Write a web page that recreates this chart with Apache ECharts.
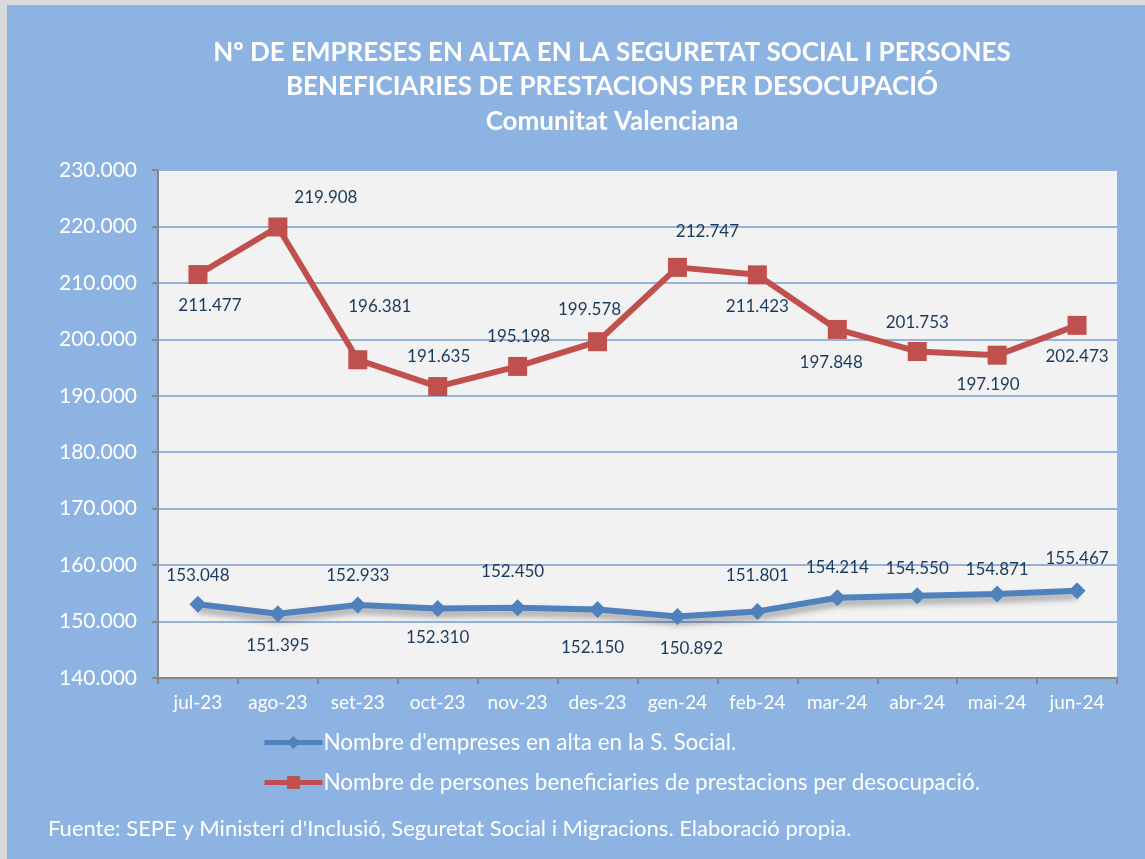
<!DOCTYPE html>
<html>
<head>
<meta charset="utf-8">
<script src="https://cdn.jsdelivr.net/npm/echarts@6/dist/echarts.min.js"></script>
<style>
  html, body { margin: 0; padding: 0; background: #d9d9d9; }
  #chart { position: absolute; left: 7px; top: 5px; width: 1138px; height: 854px; }
</style>
</head>
<body>
<div id="chart"></div>
<script>
// ---------------------------------------------------------------------------
// Dades
// ---------------------------------------------------------------------------
const months = ["jul-23", "ago-23", "set-23", "oct-23", "nov-23", "des-23",
  "gen-24", "feb-24", "mar-24", "abr-24", "mai-24", "jun-24"];

const empreses = [153048, 151395, 152933, 152310, 152450, 152150,
  150892, 151801, 154214, 154550, 154871, 155467];

const beneficiaries = [211477, 219908, 196381, 191635, 195198, 199578,
  212747, 211423, 201753, 197848, 197190, 202473];

const seriesNames = [
  "Nombre d'empreses en alta en la S. Social.",
  "Nombre de persones beneficiaries de prestacions per desocupació.",
];

// desplaçament manual de les etiquetes (com al gràfic original)
const empresesLabelOffset = [
  [0, -29], [0, 32], [0, -29], [0, 29], [-5, -36], [-5, 38],
  [14, 32], [0, -36], [0, -30], [0, -27], [0, -25], [0, -32],
];
const beneficLabelOffset = [
  [12, 31], [48, -29], [22, -53], [1, -30], [1, -30], [-8, -32],
  [30, -36], [0, 32], [80, -7], [-86, 11], [-9, 29], [0, 31],
];

const BLUE = "#4f81bd";
const RED = "#c0504d";
const LABEL = "#1a3a5c";
const FONT = "Lato, 'Open Sans', sans-serif";

function fmt(v) {
  return String(Math.round(v)).replace(/\B(?=(\d{3})+(?!\d))/g, ".");
}

function withLabels(values, offsets) {
  return values.map((v, i) => ({
    value: v,
    label: { offset: offsets[i] },
  }));
}

const chart = echarts.init(document.getElementById("chart"));

chart.setOption({
  backgroundColor: "#8db3e2",
  textStyle: { fontFamily: FONT },
  graphic: [
    {
      type: "text",
      x: 605,
      y: 30,
      style: {
        text: "Nº DE EMPRESES EN ALTA EN LA SEGURETAT SOCIAL I PERSONES\nBENEFICIARIES DE PRESTACIONS PER DESOCUPACIÓ\nComunitat Valenciana",
        fill: "#fff",
        font: "bold 26px " + FONT,
        align: "center",
        verticalAlign: "top",
        lineHeight: 34.5,
      },
    },
    {
      type: "text",
      x: 41,
      y: 824,
      style: {
        text: "Fuente: SEPE y Ministeri d'Inclusió, Seguretat Social i Migracions. Elaboració propia.",
        fill: "#fff",
        font: "22px " + FONT,
        verticalAlign: "middle",
      },
    },
  ],
  grid: {
    left: 151,
    right: 28,
    top: 165,
    bottom: 181,
    show: true,
    backgroundColor: "#f2f2f2",
    borderWidth: 0,
  },
  legend: {
    orient: "vertical",
    left: 255,
    top: 726,
    padding: 0,
    itemWidth: 58,
    itemHeight: 16,
    itemGap: 17,
    lineStyle: { width: 5 },
    textStyle: { color: "#fff", fontSize: 22.5, fontFamily: FONT, padding: [0, 0, 0, -4] },
    data: seriesNames,
  },
  xAxis: {
    type: "category",
    data: months,
    boundaryGap: true,
    axisLine: { lineStyle: { color: "#868686", width: 2 } },
    axisTick: { show: true, length: 6, lineStyle: { color: "#868686", width: 2 } },
    axisLabel: { color: "#fff", fontSize: 19, margin: 15, fontFamily: FONT },
  },
  yAxis: {
    type: "value",
    min: 140000,
    max: 230000,
    interval: 10000,
    axisLine: { show: true, lineStyle: { color: "#868686", width: 2 } },
    axisTick: { show: true, length: 6, lineStyle: { color: "#868686", width: 2 } },
    axisLabel: { color: "#fff", fontSize: 21, margin: 21, formatter: fmt, fontFamily: FONT },
    splitLine: { lineStyle: { color: "#95b3d7", width: 2 } },
  },
  series: [
    {
      name: seriesNames[0],
      type: "line",
      data: withLabels(empreses, empresesLabelOffset),
      symbol: "diamond",
      symbolSize: 17,
      lineStyle: {
        color: BLUE,
        width: 6,
        shadowColor: "rgba(0,0,0,0.35)",
        shadowBlur: 6,
        shadowOffsetY: 5,
      },
      itemStyle: { color: BLUE },
      label: {
        show: true,
        position: "inside",
        color: LABEL,
        fontSize: 17,
        fontFamily: FONT,
        formatter: (p) => fmt(p.value),
      },
      z: 3,
    },
    {
      name: seriesNames[1],
      type: "line",
      data: withLabels(beneficiaries, beneficLabelOffset),
      symbol: "rect",
      symbolSize: 19,
      lineStyle: { color: RED, width: 6 },
      itemStyle: { color: RED },
      label: {
        show: true,
        position: "inside",
        color: LABEL,
        fontSize: 17,
        fontFamily: FONT,
        formatter: (p) => fmt(p.value),
      },
      z: 4,
    },
  ],
});
</script>
</body>
</html>
